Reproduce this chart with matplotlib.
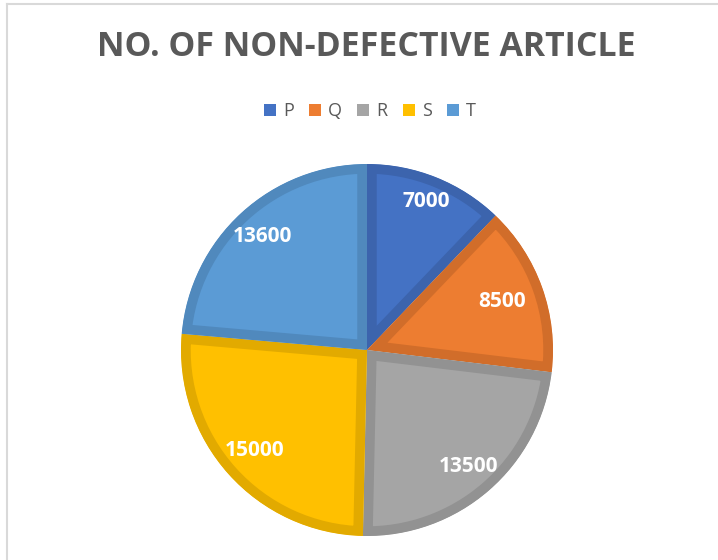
import matplotlib
matplotlib.use("Agg")
import matplotlib.pyplot as plt
import numpy as np
from matplotlib.lines import Line2D
from matplotlib.patches import Patch

categories = ["P", "Q", "R", "S", "T"]
values = [7000, 8500, 13500, 15000, 13600]
fill_colors = ["#4472C4", "#ED7D31", "#A5A5A5", "#FFC000", "#5B9BD5"]
edge_colors = ["#3C64AD", "#D16D2A", "#929292", "#E2AA00", "#5089BD"]
title = "NO. OF NON-DEFECTIVE ARTICLE"

W, H = 718, 560
fig = plt.figure(figsize=(W / 100, H / 100), dpi=100)
fig.patch.set_facecolor("white")

cx, cy, R = 367, 350, 186
ax = fig.add_axes([(cx - R) / W, (H - cy - R) / H, 2 * R / W, 2 * R / H])
wedges, _ = ax.pie(values, colors=fill_colors, startangle=90, counterclock=False,
                   radius=1.0, wedgeprops=dict(linewidth=0))
for w, ec in zip(wedges, edge_colors):
    w.set_edgecolor(ec)
    w.set_linewidth(14)
    w.set_joinstyle("miter")
    w.set_clip_path(w)
    w.set_clip_on(True)

label_dist = [0.86, 0.77, 0.83, 0.81, 0.83]
for w, v, d in zip(wedges, values, label_dist):
    ang = np.deg2rad((w.theta1 + w.theta2) / 2)
    ax.text(d * np.cos(ang), d * np.sin(ang), f"{v}", ha="center", va="center",
            color="white", fontsize=15, fontweight="bold", family="Open Sans")
ax.set_xlim(-1, 1)
ax.set_ylim(-1, 1)
ax.set_aspect("equal")
ax.axis("off")

fig.text(366 / W, 1 - 47 / H, title, ha="center", va="center", fontsize=24.4,
         fontweight="bold", color="#595959", family="Open Sans")

handles = [Patch(facecolor=c, edgecolor="none") for c in fill_colors]
leg = fig.legend(handles, categories, loc="center", bbox_to_anchor=(370 / W, 1 - 111 / H),
                 ncol=5, frameon=False, handlelength=0.65, handleheight=0.65,
                 handletextpad=0.4, columnspacing=0.85, prop=dict(family="Open Sans", size=13))
for t in leg.get_texts():
    t.set_color("#595959")

# frame lines of the surrounding document
fig.add_artist(Line2D([6.5 / W, 6.5 / W], [0, 1 - 3.5 / H], transform=fig.transFigure,
                      color="#D9D9D9", linewidth=1.5))
fig.add_artist(Line2D([6.5 / W, 1], [1 - 3.5 / H, 1 - 3.5 / H], transform=fig.transFigure,
                      color="#D9D9D9", linewidth=1.5))

fig.savefig("out.png", dpi=100)
